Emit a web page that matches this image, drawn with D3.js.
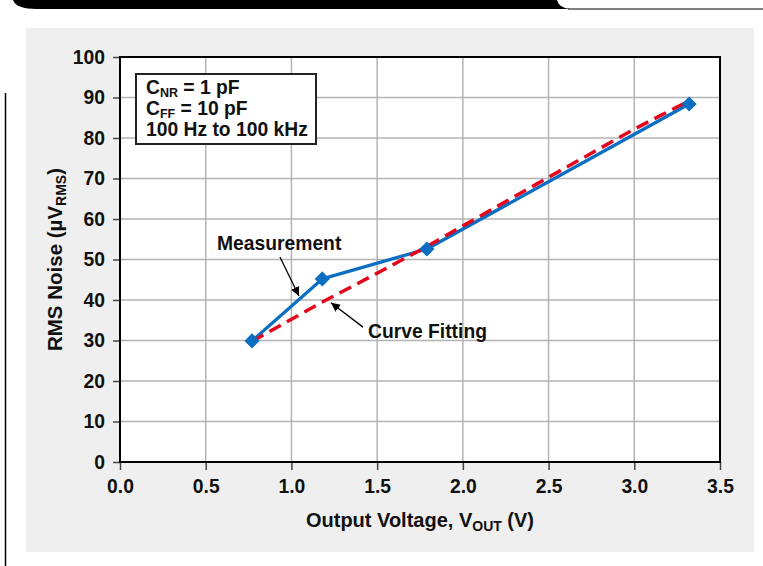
<!DOCTYPE html>
<html>
<head>
<meta charset="utf-8">
<script src="https://cdn.jsdelivr.net/npm/d3@7"></script>
<style>
	body { margin: 0; background: #fff; }
	svg { display: block; font-family: "Liberation Sans", Arial, sans-serif; font-weight: bold; }
</style>
</head>
<body>
<div id="chart"></div>
<script>
// measured points
const measVout = [0.77, 1.18, 1.79, 3.32];
const measNoise = [29.9, 45.2, 52.6, 88.4];

// curve fitting
const fitVout = [0.77, 1.18, 1.5, 1.79, 2.0, 2.5, 3.0, 3.32];
const fitNoise = [29.8, 39.5, 46.6, 53.2, 58.3, 70.3, 82.2, 89.2];

const xTicks = [0, 0.5, 1.0, 1.5, 2.0, 2.5, 3.0, 3.5];
const yTicks = [0, 10, 20, 30, 40, 50, 60, 70, 80, 90, 100];

const legendLines = [
	{ main: "C", sub: "NR", rest: " = 1 pF" },
	{ main: "C", sub: "FF", rest: " = 10 pF" },
	{ main: "100 Hz to 100 kHz", sub: "", rest: "" }
];

// annotation text and arrows, in data units
const notes = [
	{ label: "Measurement", tx: 0.566, ty: 52.3, from: [0.933, 50.6], to: [1.044, 41.0] },
	{ label: "Curve Fitting", tx: 1.447, ty: 30.6, from: [1.4175, 33.3], to: [1.231, 39.3] }
];

const width = 763;
const height = 566;
const margin = ({ top: 57, right: 43, bottom: 104, left: 120 });
const fontSize = 19.3;

const x = d3.scaleLinear()
	.domain([0, 3.5])
	.range([margin.left, width - margin.right]);

const y = d3.scaleLinear()
	.domain([0, 100])
	.range([height - margin.bottom, margin.top]);

const svg = d3.select("#chart")
	.append("svg")
	.attr("width", width)
	.attr("height", height)
	.attr("viewBox", [0, 0, width, height]);

// page decorations
svg.append("path")
	.attr("d", "M13,0 Q16,9 37,9 H570 Q559,8 557,0 Z")
	.attr("fill", "#000");
svg.append("line")
	.attr("x1", 568).attr("x2", width).attr("y1", 9).attr("y2", 9)
	.attr("stroke", "#000").attr("stroke-width", 1);
svg.append("line")
	.attr("x1", 5.5).attr("x2", 5.5).attr("y1", 93).attr("y2", height)
	.attr("stroke", "#000").attr("stroke-width", 1.5);

// grey panel
svg.append("rect")
	.attr("x", 26).attr("y", 28)
	.attr("width", 728).attr("height", 524)
	.attr("fill", "#eeefee");

// plot area
svg.append("rect")
	.attr("x", margin.left).attr("y", margin.top)
	.attr("width", width - margin.left - margin.right)
	.attr("height", height - margin.top - margin.bottom)
	.attr("fill", "#fff");

// grid
svg.append("g")
	.attr("stroke", "#b3b3b3")
	.attr("stroke-width", 1.5)
	.call(g => g.selectAll(".v")
		.data(xTicks.slice(1, -1))
		.join("line")
		.attr("x1", d => x(d)).attr("x2", d => x(d))
		.attr("y1", y(0)).attr("y2", y(100)))
	.call(g => g.selectAll(".h")
		.data(yTicks.slice(1, -1))
		.join("line")
		.attr("x1", x(0)).attr("x2", x(3.5))
		.attr("y1", d => y(d)).attr("y2", d => y(d)));

const styleTicks = g => g
	.call(g => g.select(".domain").remove())
	.call(g => g.selectAll(".tick line").attr("stroke", "#444").attr("stroke-width", 1.5))
	.call(g => g.selectAll(".tick text").attr("fill", "#111"));

const xAxis = g => g
	.attr("transform", `translate(0,${height - margin.bottom})`)
	.call(d3.axisBottom(x).tickValues(xTicks).tickFormat(d3.format(".1f"))
		.tickSize(8).tickPadding(9).tickSizeOuter(0))
	.call(styleTicks);

const yAxis = g => g
	.attr("transform", `translate(${margin.left},0)`)
	.call(d3.axisLeft(y).tickValues(yTicks)
		.tickSize(7).tickPadding(8).tickSizeOuter(0))
	.call(styleTicks);

svg.append("g")
	.call(xAxis)
	.attr("font-size", fontSize)
	.attr("font-family", null);

svg.append("g")
	.call(yAxis)
	.attr("font-size", fontSize)
	.attr("font-family", null);

// plot frame
svg.append("rect")
	.attr("x", margin.left).attr("y", margin.top)
	.attr("width", width - margin.left - margin.right)
	.attr("height", height - margin.top - margin.bottom)
	.attr("fill", "none")
	.attr("stroke", "#000")
	.attr("stroke-width", 2);

// axis titles
const xTitle = svg.append("text")
	.attr("x", (x(0) + x(3.5)) / 2)
	.attr("y", 527)
	.attr("text-anchor", "middle")
	.attr("font-size", 20)
	.attr("fill", "#111");
xTitle.append("tspan").text("Output Voltage, V");
xTitle.append("tspan").attr("font-size", 14).attr("dy", 4).text("OUT");
xTitle.append("tspan").attr("dy", -4).text(" (V)");

const yTitle = svg.append("text")
	.attr("transform", `translate(62,${(y(0) + y(100)) / 2}) rotate(-90)`)
	.attr("text-anchor", "middle")
	.attr("font-size", 20.5)
	.attr("fill", "#111");
yTitle.append("tspan").text("RMS Noise (µV");
yTitle.append("tspan").attr("font-size", 14).attr("dy", 4).text("RMS");
yTitle.append("tspan").attr("dy", -4).text(")");

// legend box
svg.append("rect")
	.attr("x", 136).attr("y", 74)
	.attr("width", 180).attr("height", 70)
	.attr("fill", "#fff")
	.attr("stroke", "#222")
	.attr("stroke-width", 2);

legendLines.forEach((l, i) => {
	const t = svg.append("text")
		.attr("x", 146)
		.attr("y", 94 + i * 21)
		.attr("font-size", fontSize)
		.attr("fill", "#111");
	t.append("tspan").text(l.main);
	if (l.sub) {
		t.append("tspan").attr("font-size", 12.5).attr("dy", 2.5).text(l.sub);
		t.append("tspan").attr("dy", -2.5).text(l.rest);
	}
});

// lines
const line = d3.line()
	.x(d => x(d[0]))
	.y(d => y(d[1]));

svg.append("path")
	.datum(d3.zip(measVout, measNoise))
	.attr("fill", "none")
	.attr("stroke", "#0a6fc2")
	.attr("stroke-width", 3.3)
	.attr("stroke-linejoin", "round")
	.attr("d", line);

svg.append("path")
	.datum(d3.zip(fitVout, fitNoise))
	.attr("fill", "none")
	.attr("stroke", "#e3061c")
	.attr("stroke-width", 3.5)
	.attr("stroke-dasharray", "13,7")
	.attr("d", line);

svg.append("g")
	.selectAll("path")
	.data(d3.zip(measVout, measNoise))
	.join("path")
	.attr("d", d3.symbol(d3.symbolSquare, 115))
	.attr("transform", d => `translate(${x(d[0])},${y(d[1])}) rotate(45)`)
	.attr("fill", "#0a6fc2");

// annotations
svg.append("defs").append("marker")
	.attr("id", "arrow")
	.attr("viewBox", "0 0 10 10")
	.attr("refX", 10).attr("refY", 5)
	.attr("markerWidth", 9).attr("markerHeight", 9)
	.attr("markerUnits", "userSpaceOnUse")
	.attr("orient", "auto")
	.append("path")
	.attr("d", "M0,0 L10,5 L0,10 Z")
	.attr("fill", "#000");

notes.forEach(n => {
	svg.append("text")
		.attr("x", x(n.tx))
		.attr("y", y(n.ty))
		.attr("font-size", fontSize)
		.attr("fill", "#111")
		.text(n.label);
	svg.append("line")
		.attr("x1", x(n.from[0])).attr("y1", y(n.from[1]))
		.attr("x2", x(n.to[0])).attr("y2", y(n.to[1]))
		.attr("stroke", "#000")
		.attr("stroke-width", 1.3)
		.attr("marker-end", "url(#arrow)");
});
</script>
</body>
</html>
